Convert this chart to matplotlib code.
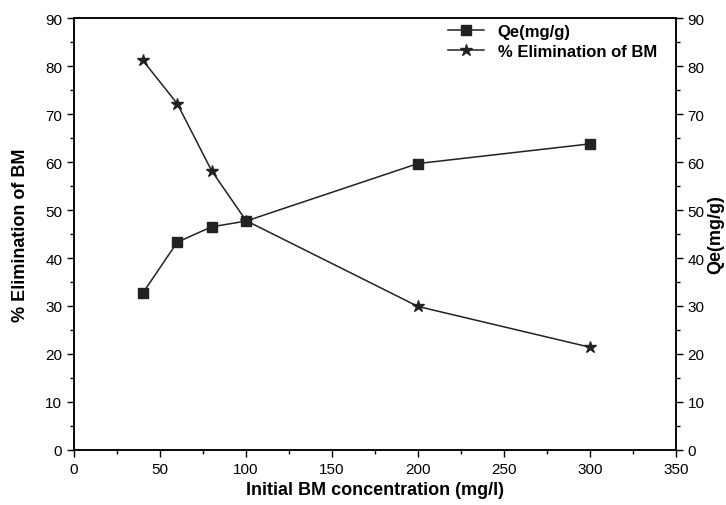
import matplotlib
matplotlib.use('Agg')
import matplotlib.pyplot as plt
from matplotlib.ticker import MultipleLocator

plt.rcParams['font.family'] = ['Liberation Sans', 'DejaVu Sans']

conc = [40, 60, 80, 100, 200, 300]
qe = [32.7, 43.3, 46.5, 47.7, 59.7, 63.8]
elim = [81.2, 72.2, 58.2, 47.8, 29.9, 21.4]

fig = plt.figure(figsize=(7.26, 5.06), dpi=100)
ax = fig.add_axes([0.102, 0.109, 0.829, 0.853])
ax2 = ax.twinx()

l2, = ax.plot(conc, elim, color='#222222', lw=1.1, marker='*', ms=9, label='% Elimination of BM')
l1, = ax2.plot(conc, qe, color='#222222', lw=1.1, marker='s', ms=6.5, label='Qe(mg/g)')

ax.set_xlim(0, 350)
ax.set_ylim(0, 90)
ax2.set_ylim(0, 90)
ax.xaxis.set_major_locator(MultipleLocator(50))
ax.xaxis.set_minor_locator(MultipleLocator(25))
for a in (ax, ax2):
    a.yaxis.set_major_locator(MultipleLocator(10))
    a.yaxis.set_minor_locator(MultipleLocator(5))
    a.tick_params(which='major', length=5, width=1, labelsize=11, direction='out')
    a.tick_params(which='minor', length=3, width=1, direction='out')
    for s in a.spines.values():
        s.set_linewidth(1.1)

ax.set_xlabel('Initial BM concentration (mg/l)', fontsize=13, fontweight='bold')
ax.set_ylabel('% Elimination of BM', fontsize=13, fontweight='bold', labelpad=12)
ax2.set_ylabel('Qe(mg/g)', fontsize=13, fontweight='bold', labelpad=2)

ax2.legend([l1, l2], ['Qe(mg/g)', '% Elimination of BM'], loc='upper right',
           frameon=False, prop={'size': 12, 'weight': 'bold'},
           bbox_to_anchor=(0.985, 1.01), handlelength=2.2, borderaxespad=0.2,
           labelspacing=0.3)

fig.savefig('out.png', dpi=100)
